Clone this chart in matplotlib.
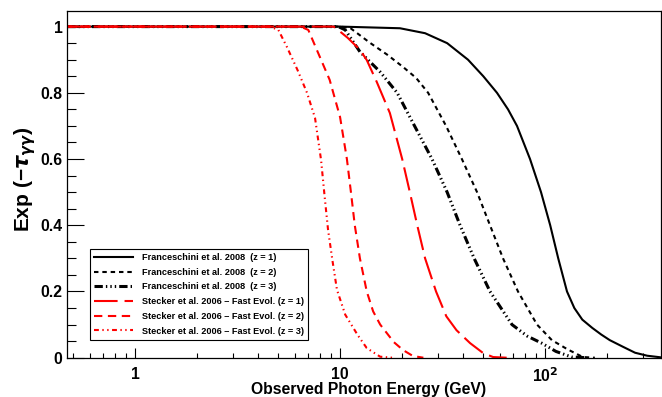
import matplotlib
matplotlib.use('Agg')
import matplotlib.pyplot as plt
from matplotlib.ticker import FixedLocator, NullFormatter, FixedFormatter

plt.rcParams['font.family'] = ['Liberation Sans', 'DejaVu Sans']
plt.rcParams['font.weight'] = 'bold'
plt.rcParams['lines.scale_dashes'] = False
plt.rcParams['mathtext.fontset'] = 'dejavusans'

# ---- data (energy in GeV, attenuation exp(-tau)) ----
f1_E = [0.467, 10.0, 19.6, 26.0, 33.3, 42.1, 50.0, 58.3, 66.0, 73.0, 84.5, 95.6, 106, 116, 128, 139, 152, 170, 188, 207, 240, 275, 315, 368]
f1_v = [1.0, 1.0, 0.995, 0.98, 0.95, 0.90, 0.85, 0.80, 0.75, 0.70, 0.60, 0.50, 0.40, 0.30, 0.20, 0.15, 0.115, 0.09, 0.07, 0.053, 0.033, 0.015, 0.006, 0.001]

f2_E = [0.467, 10.0, 11.2, 14.0, 17.0, 20.3, 23.5, 26.9, 32.9, 39.3, 46.6, 53.9, 62.4, 73.8, 91.4, 108, 129, 153, 175]
f2_v = [1.0, 1.0, 0.996, 0.951, 0.915, 0.878, 0.845, 0.80, 0.70, 0.60, 0.50, 0.40, 0.30, 0.20, 0.10, 0.053, 0.025, 0.002, 0.0]

f3_E = [0.467, 9.8, 10.6, 12.5, 15.7, 19.0, 21.9, 28.1, 33.3, 38.5, 45.1, 53.9, 69.0, 82.0, 96.3, 113, 135, 160]
f3_v = [1.0, 1.0, 0.99, 0.924, 0.863, 0.80, 0.727, 0.60, 0.50, 0.40, 0.30, 0.20, 0.10, 0.065, 0.044, 0.019, 0.002, 0.0]

s1_E = [0.467, 9.3, 10.0, 10.9, 12.5, 13.5, 15.1, 17.5, 20.1, 21.9, 23.8, 26.0, 29.4, 33.0, 37.0, 43.1, 49.9, 55.8, 65.0]
s1_v = [1.0, 1.0, 0.985, 0.966, 0.93, 0.899, 0.833, 0.739, 0.60, 0.50, 0.40, 0.30, 0.20, 0.125, 0.083, 0.044, 0.014, 0.002, 0.0]

s2_E = [0.467, 6.4, 7.0, 7.7, 8.9, 10.0, 10.8, 11.3, 11.8, 12.5, 13.5, 14.5, 15.7, 18.3, 20.3, 22.7, 25.5]
s2_v = [1.0, 1.0, 0.99, 0.93, 0.839, 0.727, 0.60, 0.50, 0.40, 0.30, 0.20, 0.14, 0.10, 0.047, 0.023, 0.005, 0.0]

s3_E = [0.467, 4.56, 5.0, 5.5, 6.2, 6.9, 7.55, 8.08, 8.4, 8.74, 9.2, 9.66, 10.6, 12.2, 13.5, 15.7, 18.0]
s3_v = [1.0, 1.0, 0.99, 0.939, 0.869, 0.80, 0.724, 0.597, 0.49, 0.386, 0.29, 0.205, 0.13, 0.068, 0.029, 0.003, 0.0]

labels = ['Franceschini et al. 2008  (z = 1)',
          'Franceschini et al. 2008  (z = 2)',
          'Franceschini et al. 2008  (z = 3)',
          'Stecker et al. 2006 \u2013 Fast Evol. (z = 1)',
          'Stecker et al. 2006 \u2013 Fast Evol. (z = 2)',
          'Stecker et al. 2006 \u2013 Fast Evol. (z = 3)']

xticks_major = [1, 10, 100]
xtick_labels = ['1', '10', '10$^{\\mathbf{2}}$']
yticks_major = [0, 0.2, 0.4, 0.6, 0.8, 1.0]
ytick_labels = ['0', '0.2', '0.4', '0.6', '0.8', '1']

# ---- figure ----
W, H = 662, 397
fig = plt.figure(figsize=(W / 100, H / 100), dpi=100)
L, R, B, T = 67.3, 661.0, 357.7, 10.7
ax = fig.add_axes([L / W, 1 - B / H, (R - L) / W, (B - T) / H])

styles = [
    dict(color='black', lw=1.5, ls='-'),
    dict(color='black', lw=1.5, ls=(0, (3.2, 2.8))),
    dict(color='black', lw=2.2, ls=(0, (6, 2.2, 1.0, 2.2, 1.0, 2.2, 1.0, 2.2))),
    dict(color='red', lw=1.5, ls=(0, (17, 5))),
    dict(color='red', lw=1.5, ls=(0, (6, 4))),
    dict(color='red', lw=1.5, ls=(0, (3.5, 2.5, 1.0, 2.5, 1.0, 2.5))),
]
series = [(f1_E, f1_v), (f2_E, f2_v), (f3_E, f3_v), (s1_E, s1_v), (s2_E, s2_v), (s3_E, s3_v)]
handles = []
for (E, v), st, lab in zip(series, styles, labels):
    h, = ax.plot(E, v, label=lab, solid_joinstyle='round', dash_joinstyle='round', **st)
    handles.append(h)

ax.set_xscale('log')
ax.set_xlim(0.467, 368)
ax.set_ylim(0, 1.048)

ax.xaxis.set_major_locator(FixedLocator(xticks_major))
ax.xaxis.set_major_formatter(FixedFormatter(xtick_labels))
minors = [m * d for d in (0.1, 1, 10, 100) for m in range(2, 10)]
ax.xaxis.set_minor_locator(FixedLocator(minors))
ax.xaxis.set_minor_formatter(NullFormatter())
ax.yaxis.set_major_locator(FixedLocator(yticks_major))
ax.yaxis.set_major_formatter(FixedFormatter(ytick_labels))
ax.yaxis.set_minor_locator(FixedLocator([i * 0.05 for i in range(21)]))

ax.tick_params(axis='both', which='both', direction='in', top=False, right=False, width=0.8)
ax.tick_params(axis='y', which='major', length=12.5, pad=3.5, labelsize=11.3)
ax.tick_params(axis='y', which='minor', length=6.3)
ax.tick_params(axis='x', which='major', length=7.2, pad=6.5, labelsize=11.3)
ax.tick_params(axis='x', which='minor', length=3.6)
for lab in ax.get_xticklabels() + ax.get_yticklabels():
    lab.set_fontweight('bold')
for sp in ax.spines.values():
    sp.set_linewidth(0.9)

fig.text(369 / W, 1 - 389.5 / H, 'Observed Photon Energy (GeV)', ha='center', va='center',
         fontsize=11.3, fontweight='bold')
fig.text(25 / W, 1 - 179 / H, 'Exp (\u2212$\\tau_{\\gamma\\gamma}$)', ha='center', va='center',
         rotation=90, fontsize=15, fontweight='bold')

leg = ax.legend(handles=handles, loc='upper left', bbox_to_anchor=(90 / W, 1 - 249 / H),
                bbox_transform=fig.transFigure, prop={'size': 6.6, 'weight': 'bold'},
                frameon=True, fancybox=False, edgecolor='black', framealpha=1,
                borderpad=0.45, handlelength=4.2, handletextpad=1.0, labelspacing=0.62,
                borderaxespad=0)
leg.get_frame().set_linewidth(0.8)

fig.savefig('out.png', dpi=100)
